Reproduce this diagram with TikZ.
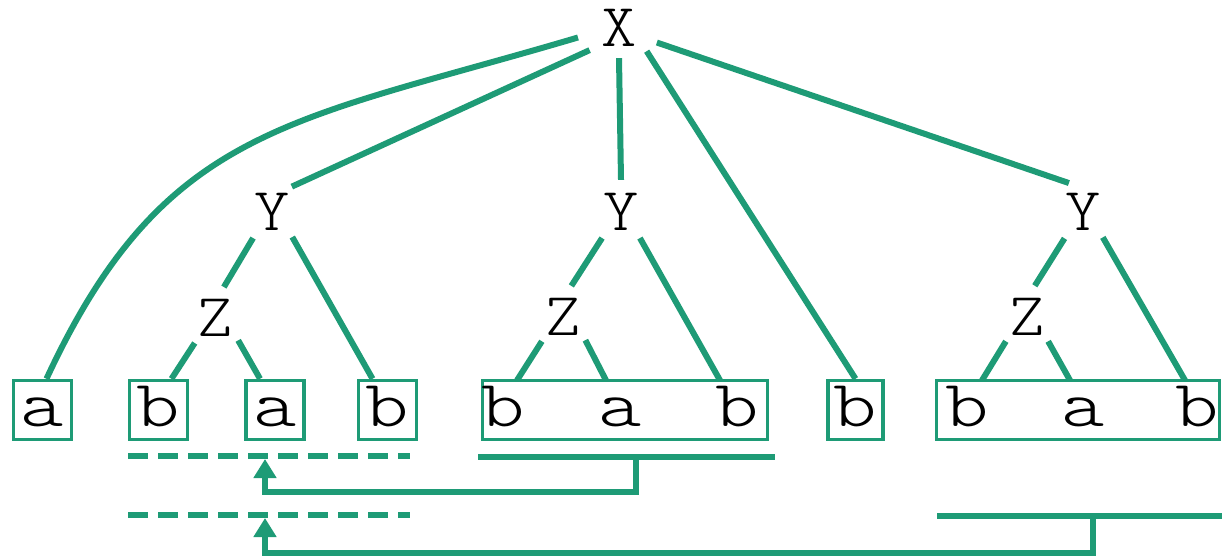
\documentclass[tikz,border=0pt]{standalone}
\usepackage{fontspec}
\usetikzlibrary{arrows.meta,shapes.geometric}
\definecolor{tree}{RGB}{30,155,118}
\newfontfamily\treefont{lmmonolt10-regular.otf}
\newcommand\widebox[1]{\scalebox{1.25}[1]{#1}}
\newcommand\widelabel[1]{\scalebox{1.1}[1]{#1}}
\begin{document}
\begin{tikzpicture}[x=1pt,y=-1pt,
  lbl/.style={circle,inner sep=0pt,minimum size=64pt,
    font=\treefont\fontsize{61pt}{61pt}\selectfont},
  root/.style={ellipse,inner sep=0pt,minimum width=86pt,minimum height=60pt,
    font=\treefont\fontsize{61pt}{61pt}\selectfont},
  leaftext/.style={inner sep=0pt,minimum width=58pt,text height=46pt,text depth=13pt,
    font=\treefont\fontsize{66pt}{66pt}\selectfont},
  leafbox/.style={leaftext,draw=tree,line width=3.5pt},
  rowbox/.style={draw=tree,line width=3.5pt,minimum height=59pt,inner sep=0pt},
  edge/.style={draw=tree,line width=6pt},
  bar/.style={draw=tree,line width=6.5pt},
  gap/.style={bar,dash pattern=on 20pt off 10pt},
  link/.style={bar,-{Triangle[width=22pt,length=19pt]}}
]
\useasboundingbox (0,0) rectangle (1222,556);

% inner labels
\node[root] (X) at (619,28) {\widelabel{X}};
\node[lbl] (Y1) at (272,212) {\widelabel{Y}};
\node[lbl] (Y2) at (621,212) {\widelabel{Y}};
\node[lbl] (Y3) at (1083,212) {\widelabel{Y}};
\node[lbl] (Z1) at (215,318) {\widelabel{Z}};
\node[lbl] (Z2) at (563,317) {\widelabel{Z}};
\node[lbl] (Z3) at (1027,317) {\widelabel{Z}};

% single leaves
\node[leafbox] (a0) at (42.5,410) {\widebox{a}};
\node[leafbox] (b1) at (158.5,410) {\widebox{b}};
\node[leafbox] (a1) at (275,410) {\widebox{a}};
\node[leafbox] (b2) at (387.5,410) {\widebox{b}};
\node[leafbox,minimum width=55pt] (b4) at (855.5,410) {\widebox{b}};

% boxed leaf rows
\node[rowbox,minimum width=285pt] (row2) at (625,410) {};
\node[leaftext] (r2b) at (503,410) {\widebox{b}};
\node[leaftext] (r2a) at (620,410) {\widebox{a}};
\node[leaftext] (r2c) at (737,410) {\widebox{b}};
\node[rowbox,minimum width=283pt] (row3) at (1078,410) {};
\node[leaftext] (r3b) at (967,410) {\widebox{b}};
\node[leaftext] (r3a) at (1083,410) {\widebox{a}};
\node[leaftext] (r3c) at (1197,410) {\widebox{b}};

% tree edges
\draw[edge] (X.193.4) .. controls +(-287,85) and +(118,-254) .. ([xshift=4pt]a0.north);
\draw[edge] (X.217) -- (Y1.52.5);
\draw[edge] (X.270) -- (Y2.90);
\draw[edge] (X.320) -- (b4.north);
\draw[edge] (X.339) -- (Y3.116.6);

\draw[edge] (Y1.234) -- (Z1.74);
\draw[edge] (Y1.309) -- ([xshift=-15pt]b2.north);
\draw[edge] (Z1.231) -- ([xshift=13pt]b1.north);
\draw[edge] (Z1.316) -- ([xshift=-15pt]a1.north);

\draw[edge] (Y2.234) -- (Z2.75);
\draw[edge] (Y2.306) -- ([xshift=-17pt]r2c.north);
\draw[edge] (Z2.229) -- ([xshift=14pt]r2b.north);
\draw[edge] (Z2.314) -- ([xshift=-14pt]r2a.north);

\draw[edge] (Y3.235) -- (Z3.76);
\draw[edge] (Y3.308) -- ([xshift=-12pt]r3c.north);
\draw[edge] (Z3.229) -- ([xshift=15pt]r3b.north);
\draw[edge] (Z3.311) -- ([xshift=-13pt]r3a.north);

% gaps and spans below the leaves
\coordinate (g1w) at (128,456);
\coordinate (g1e) at (410,456);
\coordinate (g2w) at (128,515);
\coordinate (g2e) at (410,515);
\coordinate (t1) at (265,459);
\coordinate (t2) at (265,518);
\coordinate (s1w) at (478,457);
\coordinate (s1e) at (775,457);
\coordinate (s1) at (636,457);
\coordinate (s2w) at (937,516);
\coordinate (s2e) at (1222,516);
\coordinate (s2) at (1093,516);

\draw[gap] (g1w) -- (g1e);
\draw[gap] (g2w) -- (g2e);
\draw[bar] (s1w) -- (s1e);
\draw[bar] (s2w) -- (s2e);

\draw[link] (s1) -- ++(0,35) -| (t1);
\draw[link] (s2) -- ++(0,37) -| (t2);
\end{tikzpicture}
\end{document}
